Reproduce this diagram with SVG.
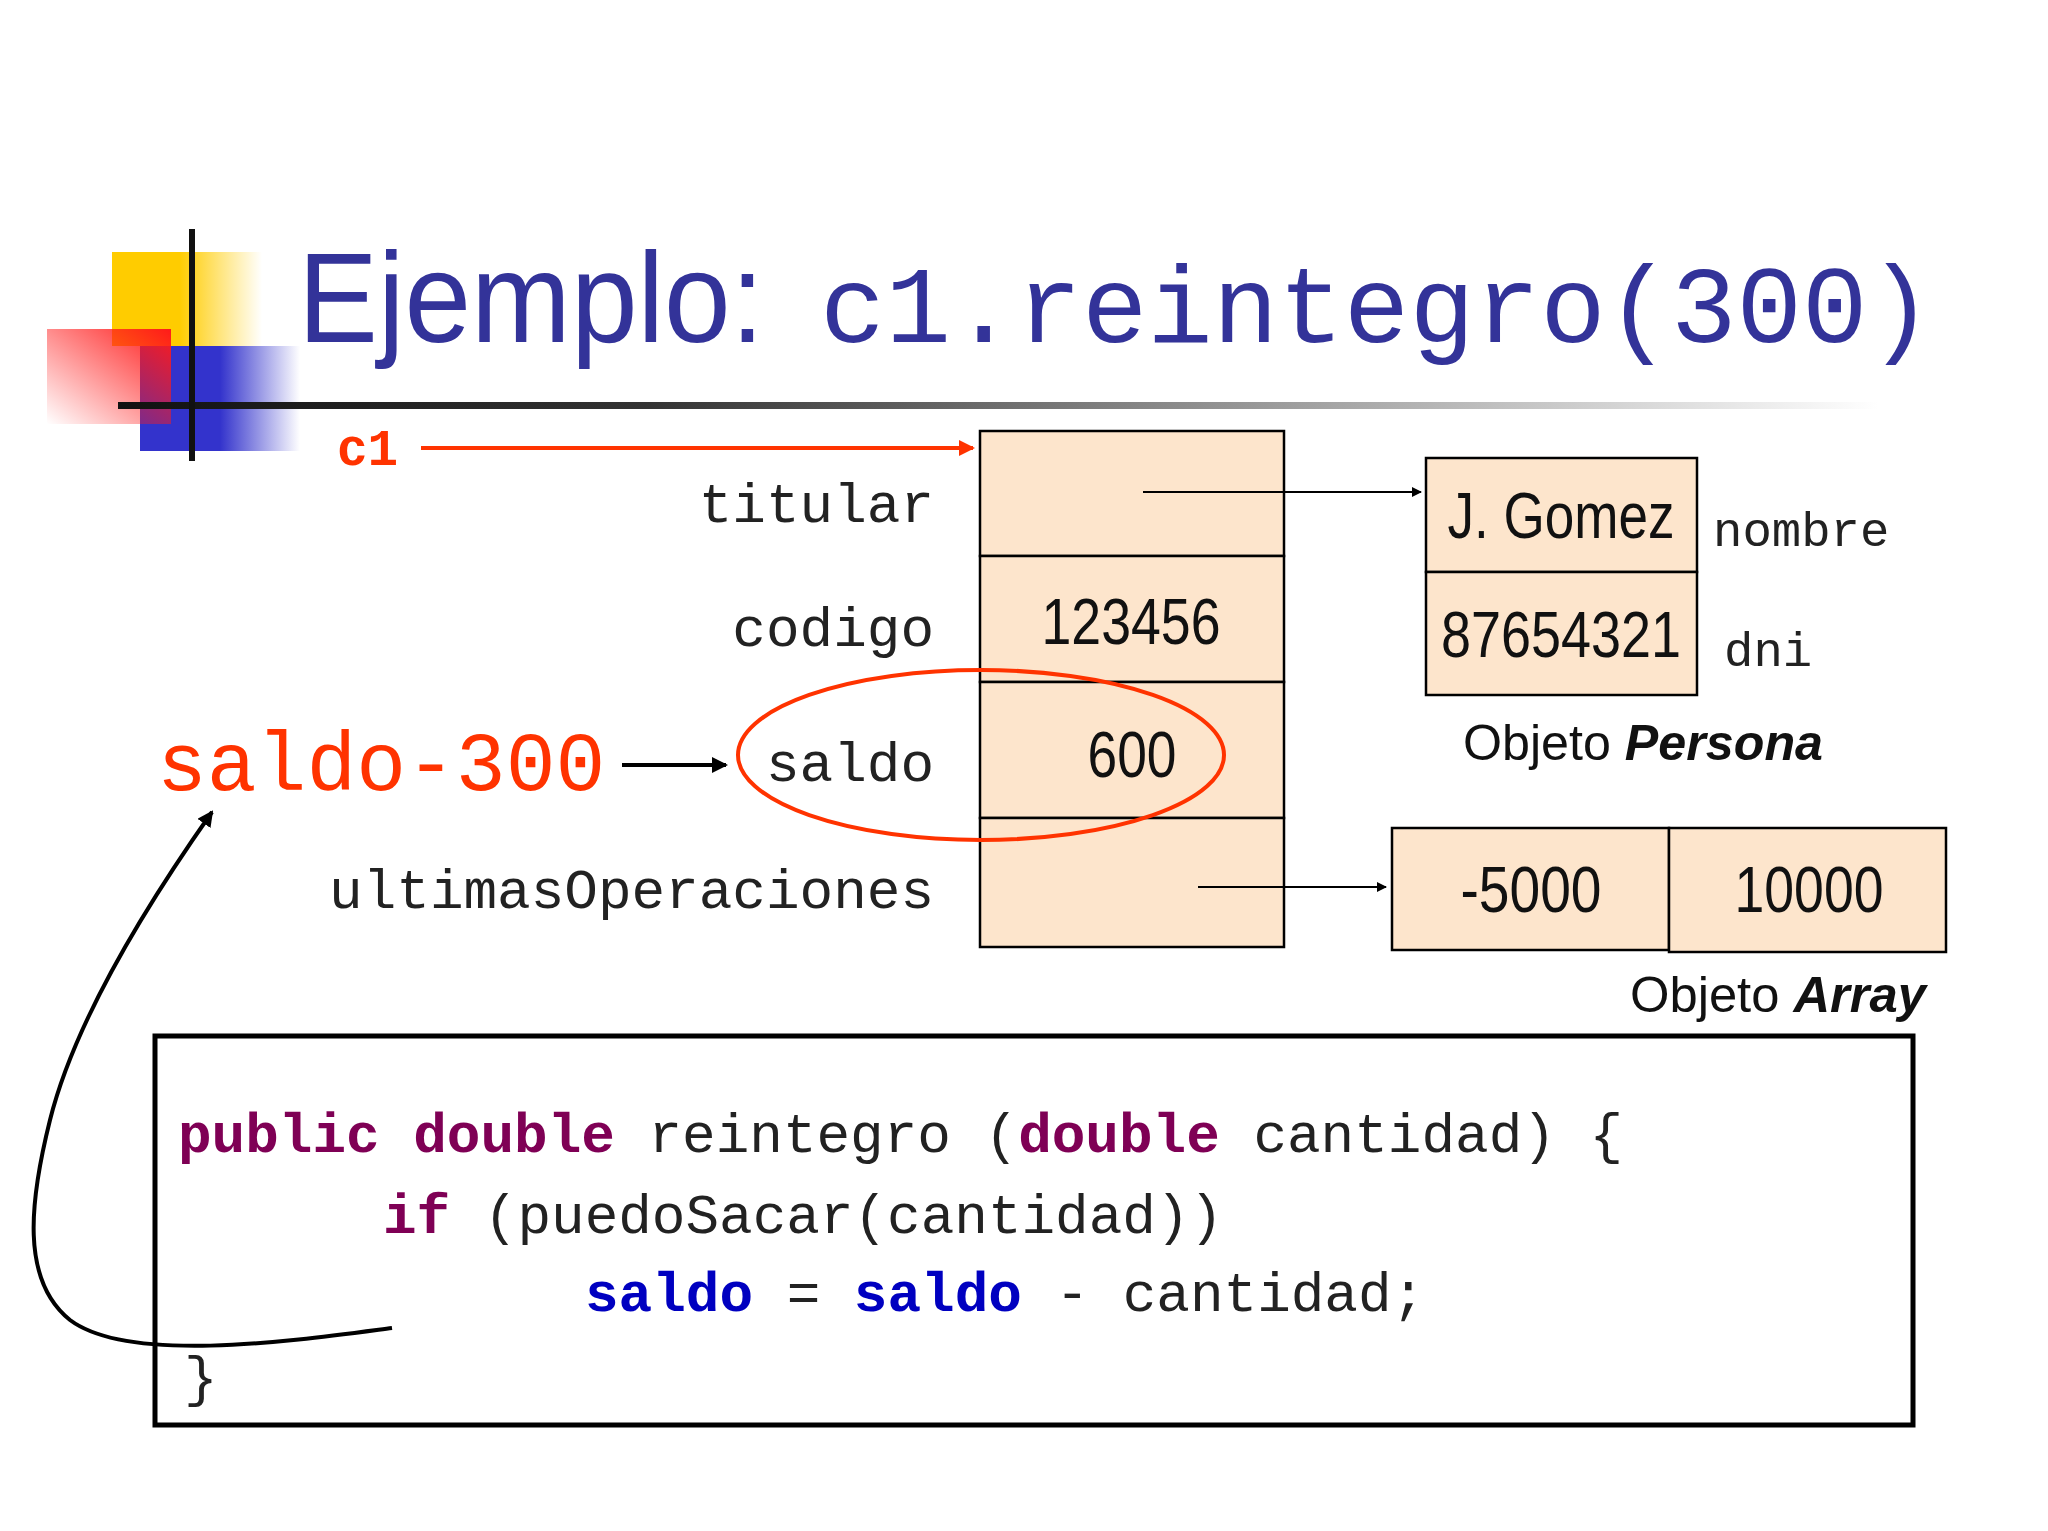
<svg xmlns="http://www.w3.org/2000/svg" width="2048" height="1531" viewBox="0 0 2048 1531">
<defs>
<style>
.mono{font-family:"Liberation Mono","DejaVu Sans Mono",monospace;}
.sans{font-family:"Liberation Sans Narrow","Liberation Sans",Arial,sans-serif;}
.cell{fill:#fde5cc;stroke:#000;stroke-width:2.5;}
.lbl{font-size:56px;fill:#222;}
.val{font-size:64px;fill:#111;text-anchor:middle;}
.kw{fill:#7f0055;font-weight:bold;}
.fld{fill:#0000c0;font-weight:bold;}
</style>
<linearGradient id="gy" x1="0" x2="1"><stop offset="0.45" stop-color="#ffcc00"/><stop offset="1" stop-color="#ffcc00" stop-opacity="0"/></linearGradient>
<linearGradient id="gb" x1="0" x2="1"><stop offset="0.5" stop-color="#3333cc"/><stop offset="1" stop-color="#3333cc" stop-opacity="0"/></linearGradient>
<linearGradient id="gr" x1="1" y1="0" x2="0" y2="1"><stop offset="0" stop-color="#ff1a1a"/><stop offset="1" stop-color="#ff1a1a" stop-opacity="0"/></linearGradient>
<linearGradient id="gl" x1="0" x2="1"><stop offset="0" stop-color="#111"/><stop offset="0.3" stop-color="#333"/><stop offset="1" stop-color="#fff"/></linearGradient>
<marker id="ab" markerWidth="10" markerHeight="10" refX="9" refY="5" orient="auto" markerUnits="userSpaceOnUse"><path d="M0,0 L10,5 L0,10 z" fill="#000"/></marker>
<marker id="abig" markerWidth="16" markerHeight="16" refX="14" refY="8" orient="auto" markerUnits="userSpaceOnUse"><path d="M0,0 L16,8 L0,16 z" fill="#000"/></marker>
<marker id="ar" markerWidth="16" markerHeight="16" refX="14" refY="8" orient="auto" markerUnits="userSpaceOnUse"><path d="M0,0 L16,8 L0,16 z" fill="#ff3300"/></marker>
</defs>
<rect width="2048" height="1531" fill="#fff"/>
<g id="logo">
<rect x="112" y="252" width="150" height="94" fill="url(#gy)"/>
<rect x="140" y="346" width="160" height="105" fill="url(#gb)"/>
<rect x="47" y="329" width="124" height="95" fill="url(#gr)"/>
<rect x="118" y="402" width="1760" height="7" fill="url(#gl)"/>
<rect x="189" y="229" width="6" height="232" fill="#111"/>
</g>
<g id="title">
<text x="298" y="342" class="sans" font-size="128" fill="#333399" textLength="466" lengthAdjust="spacingAndGlyphs">Ejemplo:</text>
<text x="820" y="342" class="mono" font-size="109" fill="#333399" textLength="1113" lengthAdjust="spacingAndGlyphs">c1.reintegro(300)</text>
</g>
<g id="c1"><text x="337" y="465" class="mono" font-size="51" font-weight="bold" fill="#ff3300">c1</text></g>
<g id="cuenta">
<rect class="cell" x="980" y="431" width="304" height="125"/>
<rect class="cell" x="980" y="556" width="304" height="126"/>
<rect class="cell" x="980" y="682" width="304" height="136"/>
<rect class="cell" x="980" y="818" width="304" height="129"/>
<text class="sans val" x="1131" y="644" textLength="179" lengthAdjust="spacingAndGlyphs">123456</text>
<text class="sans val" x="1132" y="777" textLength="89" lengthAdjust="spacingAndGlyphs">600</text>
<g class="mono lbl" text-anchor="end">
<text x="934" y="522">titular</text>
<text x="934" y="646">codigo</text>
<text x="934" y="781">saldo</text>
<text x="934" y="908">ultimasOperaciones</text>
</g>
</g>
<g id="persona">
<rect class="cell" x="1426" y="458" width="271" height="114"/>
<rect class="cell" x="1426" y="572" width="271" height="123"/>
<text class="sans val" x="1561" y="538" textLength="227" lengthAdjust="spacingAndGlyphs">J. Gomez</text>
<text class="sans val" x="1561" y="657" textLength="240" lengthAdjust="spacingAndGlyphs">87654321</text>
<text class="mono" font-size="49" fill="#222" x="1713" y="546">nombre</text>
<text class="mono" font-size="49" fill="#222" x="1724" y="666">dni</text>
<text class="sans" x="1643" y="760" font-size="50" text-anchor="middle" fill="#111" textLength="360" lengthAdjust="spacingAndGlyphs">Objeto <tspan font-weight="bold" font-style="italic">Persona</tspan></text>
</g>
<g id="array">
<rect class="cell" x="1392" y="828" width="277" height="122"/>
<rect class="cell" x="1669" y="828" width="277" height="124"/>
<text class="sans val" x="1531" y="912" textLength="141" lengthAdjust="spacingAndGlyphs">-5000</text>
<text class="sans val" x="1809" y="912" textLength="149" lengthAdjust="spacingAndGlyphs">10000</text>
<text class="sans" x="1926" y="1012" font-size="50" text-anchor="end" fill="#111" textLength="296" lengthAdjust="spacingAndGlyphs">Objeto <tspan font-weight="bold" font-style="italic">Array</tspan></text>
</g>
<g id="expr"><text x="157" y="790" class="mono" font-size="83" fill="#ff3300">saldo-300</text></g>
<g id="code">
<rect x="155" y="1036" width="1758" height="389" fill="none" stroke="#000" stroke-width="5"/>
<g class="mono" font-size="56" fill="#222">
<text x="178" y="1152"><tspan class="kw">public double</tspan> reintegro (<tspan class="kw">double</tspan> cantidad) {</text>
<text x="383" y="1233"><tspan class="kw">if</tspan> (puedoSacar(cantidad))</text>
<text x="585" y="1311"><tspan class="fld">saldo</tspan> = <tspan class="fld">saldo</tspan> - cantidad;</text>
<text x="184" y="1395">}</text>
</g>
</g>
<g id="connectors" fill="none">
<line x1="421" y1="448" x2="973" y2="448" stroke="#ff3300" stroke-width="4" marker-end="url(#ar)"/>
<line x1="1143" y1="492" x2="1421" y2="492" stroke="#000" stroke-width="2" marker-end="url(#ab)"/>
<line x1="1198" y1="887" x2="1386" y2="887" stroke="#000" stroke-width="2" marker-end="url(#ab)"/>
<line x1="622" y1="765" x2="726" y2="765" stroke="#000" stroke-width="4" marker-end="url(#abig)"/>
<ellipse cx="981" cy="755" rx="243" ry="85" stroke="#ff3300" stroke-width="4"/>
<path d="M392,1328 C300,1340 130,1365 70,1320 C20,1280 30,1200 50,1120 C75,1020 150,900 212,812" stroke="#000" stroke-width="4" marker-end="url(#abig)"/>
</g>
</svg>
